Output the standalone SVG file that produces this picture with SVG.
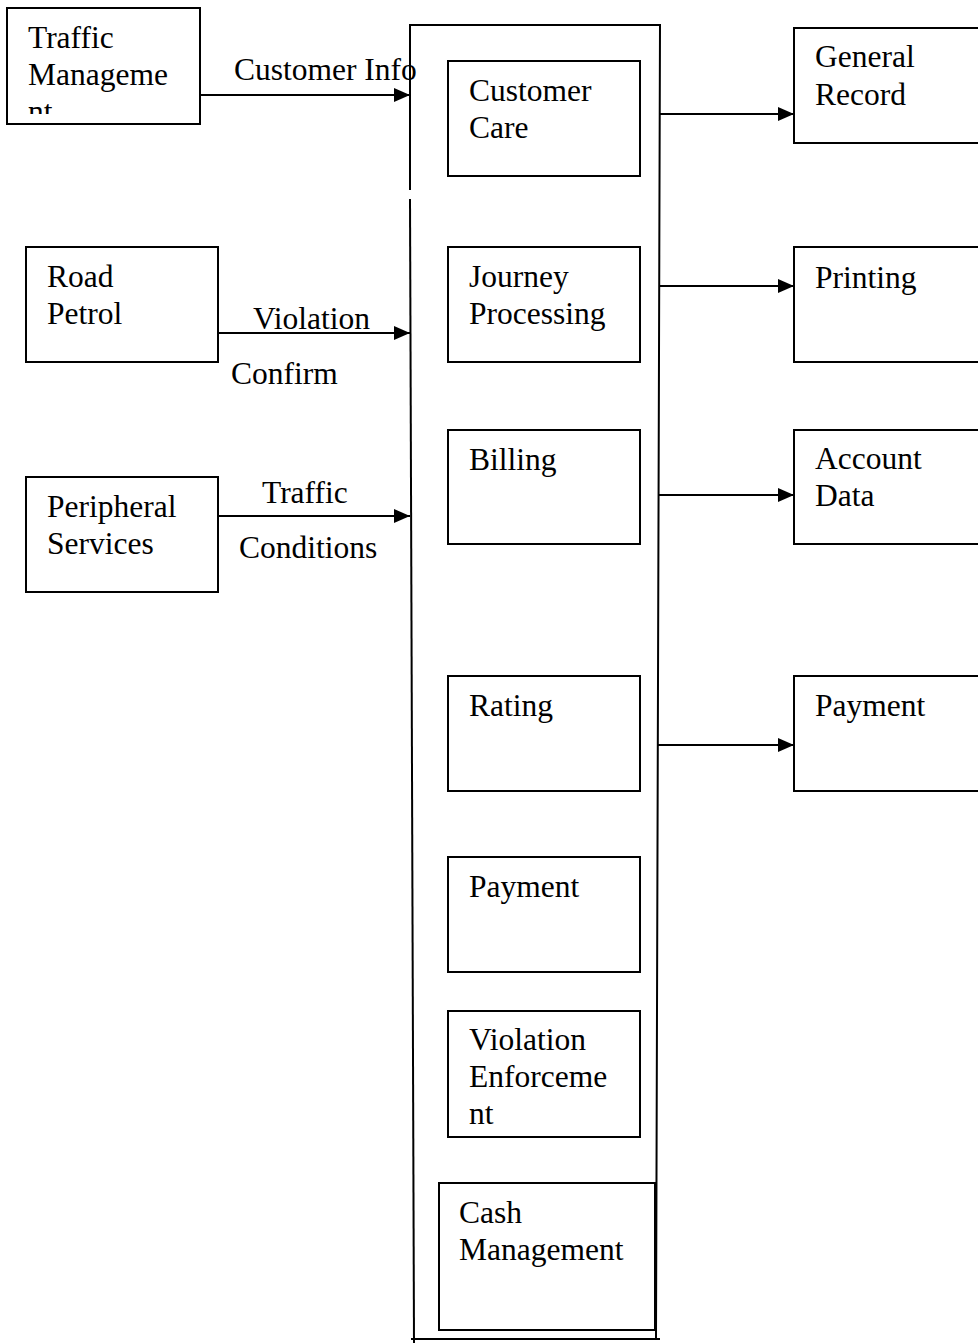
<svg xmlns="http://www.w3.org/2000/svg" width="978" height="1344" viewBox="0 0 978 1344">
  <style>
    .box { fill: #fff; stroke: #000; stroke-width: 2; }
    .edge { fill: none; stroke: #000; stroke-width: 2; }
    .wire { fill: none; stroke: #000; stroke-width: 2; marker-end: url(#arrow); }
    text { font-family: "Liberation Serif", "Times New Roman", serif; font-size: 31.5px; fill: #000; }
  </style>
  <defs>
    <marker id="arrow" viewBox="0 0 16 14" refX="16" refY="7" markerWidth="16" markerHeight="14" markerUnits="userSpaceOnUse" orient="auto">
      <path d="M0,0 L16,7 L0,14 Z" fill="#000"/>
    </marker>
    <clipPath id="clipTraffic">
      <rect x="8" y="9" width="191" height="105"/>
    </clipPath>
  </defs>

  <rect width="978" height="1344" fill="#fff"/>

  <!-- outer system frame -->
  <g id="system-frame">
    <path class="edge" d="M410,190 L410,25 L660,25 L656,1339"/>
    <path class="edge" d="M410,199 L414,1343"/>
    <path class="edge" d="M411,1339 L660,1339"/>
  </g>

  <!-- external sources -->
  <g id="traffic-management">
    <rect class="box" x="7" y="8" width="193" height="116"/>
    <g clip-path="url(#clipTraffic)">
      <text x="28" y="48">Traffic</text>
      <text x="28" y="85">Manageme</text>
      <text x="28" y="122">nt</text>
    </g>
  </g>
  <g id="road-petrol">
    <rect class="box" x="26" y="247" width="192" height="115"/>
    <text x="47" y="287">Road</text>
    <text x="47" y="324">Petrol</text>
  </g>
  <g id="peripheral-services">
    <rect class="box" x="26" y="477" width="192" height="115"/>
    <text x="47" y="517">Peripheral</text>
    <text x="47" y="554">Services</text>
  </g>

  <!-- internal modules -->
  <g id="customer-care">
    <rect class="box" x="448" y="61" width="192" height="115"/>
    <text x="469" y="101">Customer</text>
    <text x="469" y="138">Care</text>
  </g>
  <g id="journey-processing">
    <rect class="box" x="448" y="247" width="192" height="115"/>
    <text x="469" y="287">Journey</text>
    <text x="469" y="324">Processing</text>
  </g>
  <g id="billing">
    <rect class="box" x="448" y="430" width="192" height="114"/>
    <text x="469" y="470">Billing</text>
  </g>
  <g id="rating">
    <rect class="box" x="448" y="676" width="192" height="115"/>
    <text x="469" y="716">Rating</text>
  </g>
  <g id="payment-module">
    <rect class="box" x="448" y="857" width="192" height="115"/>
    <text x="469" y="897">Payment</text>
  </g>
  <g id="violation-enforcement">
    <rect class="box" x="448" y="1011" width="192" height="126"/>
    <text x="469" y="1050">Violation</text>
    <text x="469" y="1087">Enforceme</text>
    <text x="469" y="1124">nt</text>
  </g>
  <g id="cash-management">
    <rect class="box" x="439" y="1183" width="216" height="147"/>
    <text x="459" y="1223">Cash</text>
    <text x="459" y="1260">Management</text>
  </g>

  <!-- outputs -->
  <g id="general-record">
    <rect class="box" x="794" y="28" width="190" height="115"/>
    <text x="815" y="67">General</text>
    <text x="815" y="105">Record</text>
  </g>
  <g id="printing">
    <rect class="box" x="794" y="247" width="190" height="115"/>
    <text x="815" y="288">Printing</text>
  </g>
  <g id="account-data">
    <rect class="box" x="794" y="430" width="190" height="114"/>
    <text x="815" y="469">Account</text>
    <text x="815" y="506">Data</text>
  </g>
  <g id="payment-output">
    <rect class="box" x="794" y="676" width="190" height="115"/>
    <text x="815" y="716">Payment</text>
  </g>

  <!-- connectors -->
  <g id="connectors">
    <path class="wire" d="M200,95 L410,95"/>
    <path class="wire" d="M218,333 L410,333"/>
    <path class="wire" d="M218,516 L410,516"/>
    <path class="wire" d="M660,114 L794,114"/>
    <path class="wire" d="M659,286 L794,286"/>
    <path class="wire" d="M659,495 L794,495"/>
    <path class="wire" d="M658,745 L794,745"/>
  </g>

  <!-- connector labels -->
  <g id="labels">
    <text x="234" y="80">Customer Info</text>
    <text x="253" y="329">Violation</text>
    <text x="231" y="384">Confirm</text>
    <text x="262" y="503">Traffic</text>
    <text x="239" y="558">Conditions</text>
  </g>
</svg>
